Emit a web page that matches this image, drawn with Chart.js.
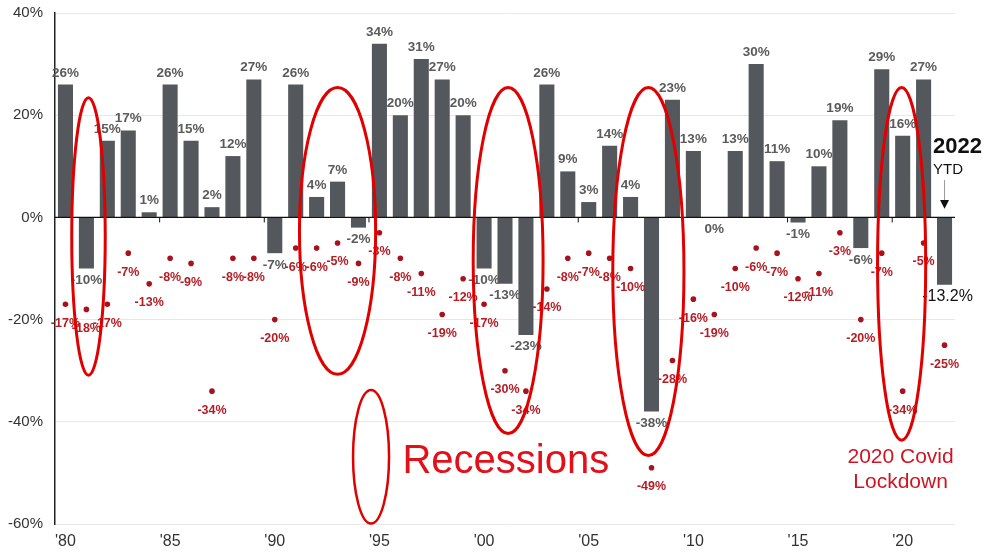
<!DOCTYPE html>
<html>
<head>
<meta charset="utf-8">
<title>S&amp;P 500 annual returns and intra-year declines</title>
<script src="https://cdn.jsdelivr.net/npm/chart.js@4.4.1/dist/chart.umd.min.js"></script>
<style>
  html, body { margin: 0; padding: 0; background: #fff; }
  canvas { display: block; }
</style>
</head>
<body>
<canvas id="retoursChart" width="987" height="552"></canvas>
<script>
// Années civiles
var annees = [1980, 1981, 1982, 1983, 1984, 1985, 1986, 1987, 1988, 1989,
              1990, 1991, 1992, 1993, 1994, 1995, 1996, 1997, 1998, 1999,
              2000, 2001, 2002, 2003, 2004, 2005, 2006, 2007, 2008, 2009,
              2010, 2011, 2012, 2013, 2014, 2015, 2016, 2017, 2018, 2019,
              2020, 2021, 2022];

// Rendement annuel (%)
var rendements = [26, -10, 15, 17, 1, 26, 15, 2, 12, 27,
                  -7, 26, 4, 7, -2, 34, 20, 31, 27, 20,
                  -10, -13, -23, 26, 9, 3, 14, 4, -38, 23,
                  13, 0, 13, 30, 11, -1, 10, 19, -6, 29,
                  16, 27, -13.2];

// Baisse maximale en cours d'année (%)
var baisses = [-17, -18, -17, -7, -13, -8, -9, -34, -8, -8,
               -20, -6, -6, -5, -9, -3, -8, -11, -19, -12,
               -17, -30, -34, -14, -8, -7, -8, -10, -49, -28,
               -16, -19, -10, -6, -7, -12, -11, -3, -20, -7,
               -34, -5, -25];

// Graduations de l'axe Y
var graduationsY = [-60, -40, -20, 0, 20, 40];

// Ovales des récessions : année centrale, demi-largeur (années), haut et bas (%)
var recessions = [
    { annee: 1981.1, demi: 0.8, haut: 23.4, bas: -30.9 },
    { annee: 1993.0, demi: 1.82, haut: 25.4, bas: -30.7 },
    { annee: 2001.15, demi: 1.67, haut: 25.4, bas: -42.3 },
    { annee: 2007.85, demi: 1.7, haut: 25.4, bas: -46.6 },
    { annee: 2019.95, demi: 1.15, haut: 25.4, bas: -43.6 }
];
var legendeOvale = { annee: 1994.6, demi: 0.86, haut: -33.8, bas: -59.9 };

var POLICE = "'Liberation Sans', Arial, sans-serif";
var gris = '#54575b';
var rougeFonce = '#a8121c';
var rougeTexte = '#b51d25';
var rougeVif = '#e00000';

// Position X d'une année (fractionnaire) via l'échelle des catégories
function xAnnee(chart, annee) {
    return chart.scales.x.getPixelForValue(annee - annees[0]);
}
function yPct(chart, v) {
    return chart.scales.y.getPixelForValue(v);
}

// Étiquettes des barres et des points
var etiquettes = {
    id: 'etiquettes',
    afterDatasetsDraw: function(chart) {
        var c = chart.ctx;
        var points = chart.getDatasetMeta(0).data;
        var barres = chart.getDatasetMeta(1).data;
        c.save();
        c.textAlign = 'center';

        // ligne du zéro et petites graduations
        var y0 = yPct(chart, 0);
        c.strokeStyle = '#111';
        c.lineWidth = 1.3;
        c.beginPath();
        c.moveTo(chart.chartArea.left, y0);
        c.lineTo(chart.chartArea.right, y0);
        c.stroke();
        c.lineWidth = 1;
        for (var k = 1; k < annees.length; k++) {
            if (annees[k] % 5 === 0) {
                var xt = xAnnee(chart, annees[k] - 0.5);
                c.beginPath();
                c.moveTo(xt, y0);
                c.lineTo(xt, y0 + 5);
                c.stroke();
            }
        }

        barres.forEach(function(b, i) {
            var v = rendements[i];
            var txt = v + '%';
            if (i === annees.length - 1) {
                c.font = '16px ' + POLICE;
                c.fillStyle = '#111';
                c.textBaseline = 'top';
                c.fillText(txt, b.x + 3, b.y + 4);
                return;
            }
            c.font = 'bold 13.5px ' + POLICE;
            c.fillStyle = '#5b5b5b';
            if (v > 0) {
                c.textBaseline = 'bottom';
                c.fillText(txt, b.x, b.y - 5);
            } else {
                c.textBaseline = 'top';
                c.fillText(txt, b.x, b.y + 5);
            }
        });

        c.font = 'bold 12.5px ' + POLICE;
        c.fillStyle = rougeTexte;
        c.textBaseline = 'middle';
        points.forEach(function(p, i) {
            c.fillText(baisses[i] + '%', p.x, p.y + 19);
        });
        c.restore();
    },
    afterDraw: function(chart) {
        var c = chart.ctx;
        c.save();

        // ovales des récessions
        function ovale(o) {
            var cx = xAnnee(chart, o.annee);
            var rx = xAnnee(chart, o.annee + o.demi) - cx;
            var yh = yPct(chart, o.haut);
            var yb = yPct(chart, o.bas);
            c.beginPath();
            c.ellipse(cx, (yh + yb) / 2, rx, (yb - yh) / 2, 0, 0, Math.PI * 2);
            c.stroke();
        }
        c.strokeStyle = rougeVif;
        c.lineWidth = 3;
        recessions.forEach(ovale);
        c.lineWidth = 2.5;
        ovale(legendeOvale);

        c.textBaseline = 'alphabetic';
        c.textAlign = 'left';
        c.fillStyle = '#e3101a';
        c.font = '40px ' + POLICE;
        c.fillText('Recessions', xAnnee(chart, 1996.1), yPct(chart, -50));

        c.textAlign = 'center';
        c.fillStyle = '#cf1424';
        c.font = '21px ' + POLICE;
        c.fillText('2020 Covid', xAnnee(chart, 2019.9), yPct(chart, -48.1));
        c.fillText('Lockdown', xAnnee(chart, 2019.9), yPct(chart, -53));

        // repère 2022 YTD
        c.textAlign = 'left';
        c.fillStyle = '#111';
        c.font = 'bold 22px ' + POLICE;
        c.fillText('2022', xAnnee(chart, 2021.45), yPct(chart, 12.6));
        c.font = '15px ' + POLICE;
        c.fillText('YTD', xAnnee(chart, 2021.45), yPct(chart, 8.5));

        var xa = xAnnee(chart, 2022);
        c.strokeStyle = '#999';
        c.lineWidth = 1;
        c.beginPath();
        c.moveTo(xa, yPct(chart, 7.3));
        c.lineTo(xa, yPct(chart, 3.4));
        c.stroke();
        c.fillStyle = '#111';
        c.beginPath();
        c.moveTo(xa - 4.5, yPct(chart, 3.4));
        c.lineTo(xa + 4.5, yPct(chart, 3.4));
        c.lineTo(xa, yPct(chart, 1.7));
        c.closePath();
        c.fill();
        c.restore();
    }
};

var ctxRetours = document.getElementById('retoursChart').getContext('2d');

var retoursChart = new Chart(ctxRetours, {
    data: {
        labels: annees,
        datasets: [{
            type: 'line',
            data: baisses,
            showLine: false,
            pointRadius: 2.8,
            pointBorderWidth: 0,
            pointBackgroundColor: rougeFonce,
            order: 0
        }, {
            type: 'bar',
            data: rendements,
            backgroundColor: gris,
            barPercentage: 0.72,
            categoryPercentage: 1,
            order: 1
        }]
    },
    options: {
        responsive: false,
        animation: false,
        layout: {
            padding: { top: 13, right: 32, left: 0, bottom: 0 }
        },
        plugins: {
            legend: { display: false },
            tooltip: { enabled: false }
        },
        scales: {
            x: {
                type: 'category',
                offset: true,
                grid: { display: false, drawTicks: false },
                border: { display: false },
                ticks: {
                    autoSkip: false,
                    maxRotation: 0,
                    padding: 8,
                    color: '#333',
                    font: { family: POLICE, size: 16 },
                    callback: function(val, i) {
                        return annees[i] % 5 === 0 ? "'" + String(annees[i]).slice(2) : '';
                    }
                },
                afterFit: function(scale) {
                    scale.height = 28;
                    scale.paddingLeft = 0;
                    scale.paddingRight = 0;
                }
            },
            y: {
                min: -60,
                max: 40,
                afterBuildTicks: function(scale) {
                    scale.ticks = graduationsY.map(function(v) { return { value: v }; });
                },
                grid: {
                    drawTicks: false,
                    color: function(context) {
                        return context.tick && context.tick.value === 0 ? 'rgba(0,0,0,0)' : '#e8e8e8';
                    }
                },
                border: { color: '#222', width: 1.5 },
                ticks: {
                    padding: 12,
                    color: '#333',
                    font: { family: POLICE, size: 15 },
                    callback: function(v) { return v + '%'; }
                },
                afterFit: function(scale) {
                    scale.width = 55;
                    scale.paddingTop = 0;
                    scale.paddingBottom = 0;
                }
            }
        }
    },
    plugins: [etiquettes]
});
</script>
</body>
</html>
